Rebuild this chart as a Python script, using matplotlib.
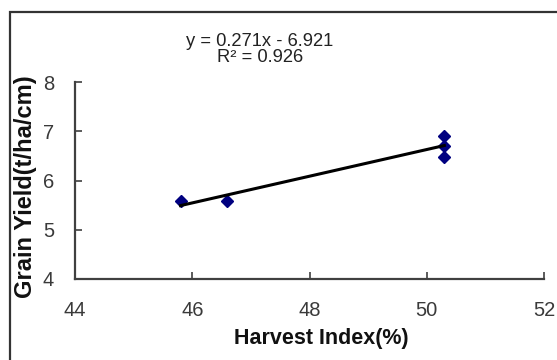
import numpy as np
import matplotlib
matplotlib.use("Agg")
import matplotlib.pyplot as plt
from matplotlib.patches import Rectangle

# data
harvest_index = [45.8, 46.6, 50.3, 50.3, 50.3]
grain_yield = [5.58, 5.58, 6.91, 6.71, 6.48]
slope = 0.271
intercept = -6.921
r_squared = 0.926
x_ticks = [44, 46, 48, 50, 52]
y_ticks = [4, 5, 6, 7, 8]

plt.rcParams['font.family'] = ['Liberation Sans', 'DejaVu Sans']

fig = plt.figure(figsize=(5.57, 3.6), dpi=100)
fig.patch.set_facecolor("white")

# outer chart frame (cut off at right and bottom)
fig.patches.append(Rectangle((10 / 557, -0.2), 1.2, (360 - 12) / 360 + 0.2,
                             transform=fig.transFigure, fill=False,
                             edgecolor="#333333", linewidth=1.6))

ax = fig.add_axes([75 / 557, 81 / 360, (544 - 75) / 557, (279 - 82) / 360])
ax.set_facecolor("none")

ax.plot(harvest_index, grain_yield, linestyle="none", marker="D",
        markersize=6, color="#000080")

fit_x = np.array([min(harvest_index), max(harvest_index)])
ax.plot(fit_x, slope * fit_x + intercept, color="black", linewidth=2.2)

ax.set_xlim(44, 52)
ax.set_ylim(4, 8)
ax.set_xticks(x_ticks)
ax.set_yticks(y_ticks)

for side in ["top", "right"]:
    ax.spines[side].set_visible(False)
for side in ["left", "bottom"]:
    ax.spines[side].set_color("#404040")
    ax.spines[side].set_linewidth(1.6)

ax.tick_params(direction="in", length=5, width=1.2, color="#404040",
               labelsize=14.5, labelcolor="#3a3a3a")
ax.tick_params(axis="x", pad=16)
ax.tick_params(axis="y", pad=15)

ax.set_xlabel("Harvest Index(%)", fontsize=15.5, fontweight="bold",
              color="#111111")
ax.xaxis.set_label_coords(0.525, -0.25)
ax.set_ylabel("Grain Yield(t/ha/cm)", fontsize=17, fontweight="bold",
              color="#111111")
ax.yaxis.set_label_coords(-0.08, 0.47)

fig.text(260 / 557, 1 - 41 / 360, f"y = {slope}x - {-intercept}",
         ha="center", va="center", fontsize=13.2, color="#222222")
fig.text(260 / 557, 1 - 58 / 360, f"R² = {r_squared}",
         ha="center", va="center", fontsize=13.2, color="#222222")

fig.savefig("out.png", dpi=100, facecolor="white")
